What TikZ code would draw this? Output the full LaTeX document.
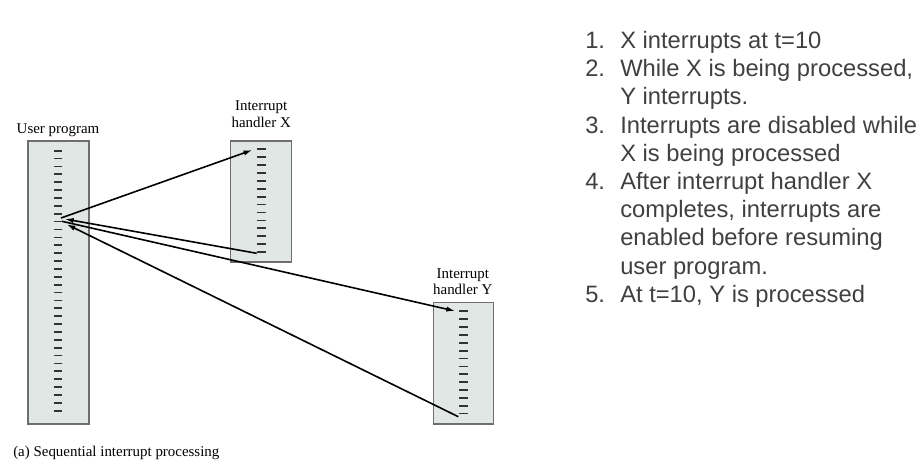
\documentclass[tikz,border=0pt]{standalone}
\usepackage{fontspec}
\setmainfont{Liberation Serif}
\newfontfamily\listfont{Liberation Sans}
\usepackage{tikz}
\usetikzlibrary{arrows.meta}

\definecolor{boxfill}{RGB}{225,231,229}
\definecolor{boxline}{RGB}{110,110,110}
\definecolor{listgray}{RGB}{64,64,64}

\tikzset{
  progbox/.style={draw=boxline, fill=boxfill, line width=0.8pt},
  tick/.style={draw=black!80, line width=1.3pt},
  flow/.style={draw=black, line width=1.2pt, -{Latex[length=6.5pt,width=4pt]}},
  lbl/.style={inner sep=0.75pt, font=\fontsize{11.2}{12.5}\selectfont},
  item/.style={anchor=base west, inner sep=0pt, text=listgray, font=\listfont\fontsize{17.8}{21}\selectfont}
}

\begin{document}
\begin{tikzpicture}[x=0.75pt,y=0.75pt,yscale=-1,xscale=1]
\useasboundingbox (0,0) rectangle (923,469);

%Shape: Rectangle [user program]
\draw [progbox] (28,141) rectangle (89,424);
\foreach \k in {0,...,33}
  \draw [tick] (54,150.7+7.88*\k) -- (62.3,150.7+7.88*\k);
%Shape: Rectangle [handler X]
\draw [progbox] (230.5,141) rectangle (291.7,262);
\foreach \k in {0,...,13}
  \draw [tick] (256.7,149.3+7.9*\k) -- (265.7,149.3+7.9*\k);
%Shape: Rectangle [handler Y]
\draw [progbox] (433.3,302.7) rectangle (493.7,424);
\foreach \k in {0,...,13}
  \draw [tick] (459.3,311.3+7.87*\k) -- (468.3,311.3+7.87*\k);

% Text Node
\node (userlbl) [lbl, anchor=base] at (58,133) {User program};
\node (hxlbl1) [lbl, anchor=base] at (261.2,110.7) {Interrupt};
\node (hxlbl2) [lbl, anchor=base] at (261.2,127.3) {handler X};
\node (hylbl1) [lbl, anchor=base] at (462.8,278.3) {Interrupt};
\node (hylbl2) [lbl, anchor=base] at (462.8,294.6) {handler Y};
\node (caption) [lbl, anchor=base west] at (12,456) {(a) Sequential interrupt processing};

%Arrow end points
\coordinate (upOutX) at (61,218);
\coordinate (hxIn) at (252.3,150);
\coordinate (hxOut) at (256.7,253.3);
\coordinate (upInX) at (65,219);
\coordinate (upOutY) at (62,221.3);
\coordinate (hyIn) at (455,311);
\coordinate (hyOut) at (458.3,416.7);
\coordinate (upInY) at (66.7,224.3);

%Straight Lines
\draw [flow] (upOutX) -- (hxIn);
\draw [flow] (hxOut) -- (upInX);
\draw [flow] (upOutY) -- (hyIn);
\draw [flow] (hyOut) -- (upInY);

% Text Node
\node (n1) [item] at (585,48.5) {1.};
\node (t1) [item] at (620,48.5) {X interrupts at t=10};
\node (n2) [item] at (585,76.7) {2.};
\node (t2) [item] at (620,76.7) {While X is being processed,};
\node (t2b) [item] at (620,104.9) {Y interrupts.};
\node (n3) [item] at (585,133.1) {3.};
\node (t3) [item] at (620,133.1) {Interrupts are disabled while};
\node (t3b) [item] at (620,161.3) {X is being processed};
\node (n4) [item] at (585,189.5) {4.};
\node (t4) [item] at (620,189.5) {After interrupt handler X};
\node (t4b) [item] at (620,217.7) {completes, interrupts are};
\node (t4c) [item] at (620,245.9) {enabled before resuming};
\node (t4d) [item] at (620,274.1) {user program.};
\node (n5) [item] at (585,302.3) {5.};
\node (t5) [item] at (620,302.3) {At t=10, Y is processed};

\end{tikzpicture}
\end{document}
